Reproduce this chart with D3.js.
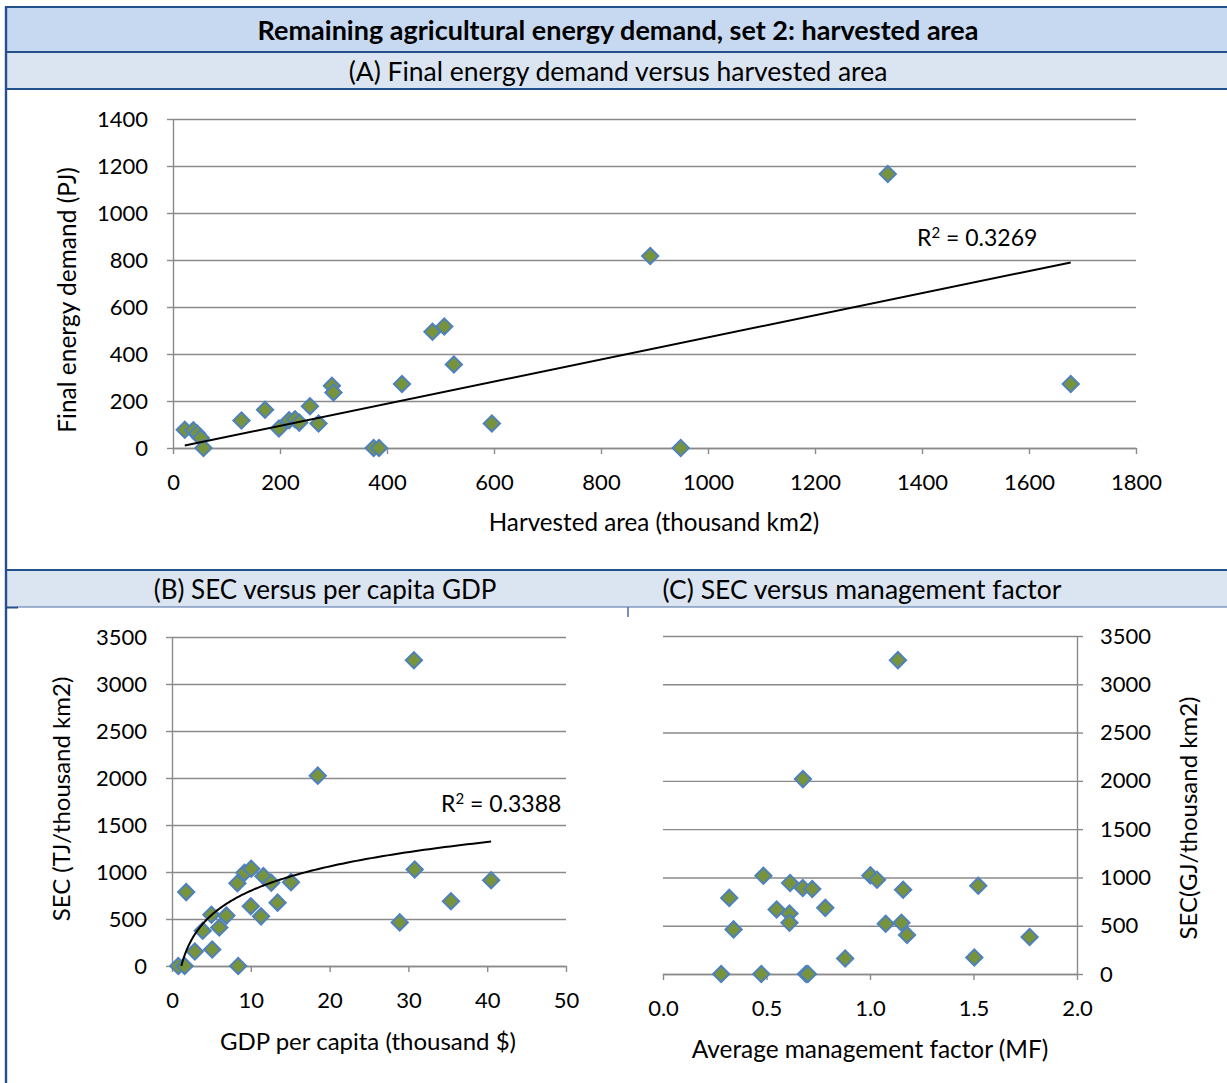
<!DOCTYPE html>
<html>
<head>
<meta charset="utf-8">
<script src="https://cdn.jsdelivr.net/npm/d3@7"></script>
<style>
  body { margin: 0; background: #fff; }
  svg text { font-family: Lato, "Open Sans", sans-serif; fill: #000; }
</style>
</head>
<body>
<svg id="chart" width="1227" height="1083"></svg>
<script>
// (A) final energy demand (PJ) against harvested area (thousand km2)
const harvestedArea = [22, 38, 45, 52, 57, 128, 172, 198, 217, 228, 236, 256, 272, 297, 300, 375, 385, 428, 485, 507, 525, 596, 892, 949, 1336, 1678];
const finalEnergy   = [78, 75, 62, 43, 0, 117, 163, 83, 118, 122, 108, 178, 104, 265, 236, 0, 0, 272, 495, 517, 355, 104, 817, 0, 1166, 272];

// (B) specific energy consumption (TJ/thousand km2) against GDP per capita (thousand $)
const gdpPerCapita = [0.8, 1.6, 1.8, 2.9, 3.9, 5.0, 5.1, 6.0, 6.9, 8.3, 8.4, 9.2, 10.05, 10.0, 11.3, 11.6, 12.6, 13.4, 15.1, 18.5, 28.9, 30.7, 30.8, 35.4, 40.5];
const secByGdp     = [0, 0, 786, 154, 375, 546, 175, 410, 536, 880, 0, 992, 1035, 636, 528, 956, 886, 674, 892, 2025, 464, 3252, 1027, 688, 912];

// (C) specific energy consumption against average management factor
const mgmtFactor = [0.281, 0.320, 0.341, 0.475, 0.485, 0.549, 0.611, 0.611, 0.614, 0.675, 0.676, 0.691, 0.700, 0.721, 0.784, 0.880, 1.002, 1.034, 1.076, 1.135, 1.152, 1.160, 1.179, 1.504, 1.523, 1.771];
const secByMgmt  = [0, 788, 462, 0, 1017, 668, 627, 531, 942, 890, 2018, 0, 0, 880, 685, 161, 1021, 976, 521, 3250, 531, 873, 404, 171, 914, 384];

// Tick values
const ticksAreaX   = [0, 200, 400, 600, 800, 1000, 1200, 1400, 1600, 1800];
const ticksEnergyY = [0, 200, 400, 600, 800, 1000, 1200, 1400];
const ticksGdpX    = [0, 10, 20, 30, 40, 50];
const ticksSecY    = [0, 500, 1000, 1500, 2000, 2500, 3000, 3500];
const ticksMgmtX   = [0, 0.5, 1.0, 1.5, 2.0];

// Titles and trendline labels
const mainTitle = "Remaining agricultural energy demand, set 2: harvested area";
const titleA = "(A) Final energy demand versus harvested area";
const titleB = "(B) SEC versus per capita GDP";
const titleC = "(C) SEC versus management factor";
const r2A = "0.3269";
const r2B = "0.3388";

const svg = d3.select("#chart");
const W = 1227;
const frame = "#24508c";
const grid = "#8a8a8a";
const markerFill = "#77933c";
const markerStroke = "#4f81bd";
const FONT = "Lato, 'Open Sans', sans-serif";

// ---- header bands and frame ----
svg.append("rect").attr("x", 6).attr("y", 7).attr("width", W - 6).attr("height", 45).attr("fill", "#c6d9f1");
svg.append("rect").attr("x", 6).attr("y", 52).attr("width", W - 6).attr("height", 37).attr("fill", "#dbe5f1");
svg.append("rect").attr("x", 6).attr("y", 570).attr("width", W - 6).attr("height", 37).attr("fill", "#dbe5f1");
[7, 52, 89, 570].forEach(yy =>
  svg.append("line").attr("x1", 6).attr("x2", W).attr("y1", yy).attr("y2", yy)
     .attr("stroke", frame).attr("stroke-width", 2.2));
svg.append("line").attr("x1", 17).attr("x2", W).attr("y1", 607).attr("y2", 607)
   .attr("stroke", "#4a6fa5").attr("stroke-width", 1.2);
svg.append("line").attr("x1", 6).attr("x2", 18).attr("y1", 607.5).attr("y2", 607.5)
   .attr("stroke", frame).attr("stroke-width", 2);
svg.append("line").attr("x1", 628).attr("x2", 628).attr("y1", 607).attr("y2", 617)
   .attr("stroke", "#4a6fa5").attr("stroke-width", 1.5);
svg.append("line").attr("x1", 6).attr("x2", 6).attr("y1", 6).attr("y2", 1083)
   .attr("stroke", frame).attr("stroke-width", 2.4);

svg.append("text").attr("x", 618).attr("y", 40).attr("text-anchor", "middle")
   .attr("font-size", 27).attr("font-weight", "bold").text(mainTitle);
svg.append("text").attr("x", 618).attr("y", 80.5).attr("text-anchor", "middle")
   .attr("font-size", 26.5).text(titleA);
svg.append("text").attr("x", 325).attr("y", 599).attr("text-anchor", "middle")
   .attr("font-size", 26).text(titleB);
svg.append("text").attr("x", 862).attr("y", 599).attr("text-anchor", "middle")
   .attr("font-size", 26.5).text(titleC);

// ---- shared panel drawing ----
function drawPanel(cfg) {
  const { x, y, xTicks, yTicks, xFmt, yFmt, side } = cfg;
  const [x0, x1] = x.range();
  const [y0] = y.range();
  const g = svg.append("g");

  // horizontal gridlines across the plot
  const gridAxis = side === "right"
    ? d3.axisRight(y).tickSize(-(x1 - x0))
    : d3.axisLeft(y).tickSize(-(x1 - x0));
  g.append("g")
    .attr("transform", `translate(${side === "right" ? x1 : x0},0)`)
    .call(gridAxis.tickValues(yTicks).tickFormat(""))
    .call(a => a.select(".domain").remove())
    .call(a => a.selectAll("line").attr("stroke", grid).attr("stroke-width", 1.4));

  // value axis with outside tick marks and labels
  const valAxis = (side === "right" ? d3.axisRight(y) : d3.axisLeft(y))
    .tickValues(yTicks).tickSize(6).tickSizeOuter(0).tickPadding(side === "right" ? 17 : 19).tickFormat(yFmt);
  g.append("g")
    .attr("transform", `translate(${side === "right" ? x1 : x0},0)`)
    .call(valAxis)
    .call(a => a.select(".domain").attr("stroke", grid).attr("stroke-width", 1.4))
    .call(a => a.selectAll("line").attr("stroke", grid).attr("stroke-width", 1.4))
    .call(a => a.selectAll("text").attr("font-size", 22).attr("font-family", FONT).attr("fill", "#000"));

  // category axis along the bottom
  g.append("g")
    .attr("transform", `translate(0,${y0})`)
    .call(d3.axisBottom(x).tickValues(xTicks).tickSize(6).tickSizeOuter(0).tickPadding(20).tickFormat(xFmt))
    .call(a => a.select(".domain").attr("stroke", grid).attr("stroke-width", 1.4))
    .call(a => a.selectAll("line").attr("stroke", grid).attr("stroke-width", 1.4))
    .call(a => a.selectAll("text").attr("font-size", 22).attr("font-family", FONT).attr("fill", "#000"));

  return g;
}

function drawMarkers(g, x, y, xs, ys) {
  const diamond = d3.symbol(d3.symbolSquare, 132);
  g.append("g").selectAll("path")
    .data(xs.map((v, i) => [v, ys[i]]))
    .join("path")
    .attr("d", diamond)
    .attr("transform", d => `translate(${x(d[0])},${y(d[1])}) rotate(45)`)
    .attr("fill", markerFill)
    .attr("stroke", markerStroke)
    .attr("stroke-width", 2);
}

function axisTitle(x, y, text, rotate, size) {
  svg.append("text")
    .attr("transform", `translate(${x},${y})${rotate ? " rotate(-90)" : ""}`)
    .attr("text-anchor", "middle").attr("dominant-baseline", "central")
    .attr("font-size", size).text(text);
}

function r2Label(x, y, value) {
  const t = svg.append("text").attr("x", x).attr("y", y).attr("font-size", 23);
  t.append("tspan").text("R");
  t.append("tspan").attr("font-size", 15).attr("dy", -8).text("2");
  t.append("tspan").attr("dy", 8).text(" = " + value);
}

// ---- panel A ----
const xA = d3.scaleLinear().domain([0, 1800]).range([173, 1136]);
const yA = d3.scaleLinear().domain([0, 1400]).range([448, 119]);
const gA = drawPanel({ x: xA, y: yA, xTicks: ticksAreaX, yTicks: ticksEnergyY, xFmt: d3.format("d"), yFmt: d3.format("d") });
drawMarkers(gA, xA, yA, harvestedArea, finalEnergy);

// linear trend forced through the origin
const sxy = d3.sum(harvestedArea, (v, i) => v * finalEnergy[i]);
const sxx = d3.sum(harvestedArea, v => v * v);
const slopeA = sxy / sxx;
const extA = d3.extent(harvestedArea);
gA.append("line")
  .attr("x1", xA(extA[0])).attr("y1", yA(slopeA * extA[0]))
  .attr("x2", xA(extA[1])).attr("y2", yA(slopeA * extA[1]))
  .attr("stroke", "#000").attr("stroke-width", 2);
r2Label(917, 246, r2A);

axisTitle(66, 300, "Final energy demand (PJ)", true, 24.5);
axisTitle(654, 521, "Harvested area (thousand km2)", false, 24.2);

// ---- panel B ----
const xB = d3.scaleLinear().domain([0, 50]).range([172, 566]);
const yB = d3.scaleLinear().domain([0, 3500]).range([966, 637]);
const gB = drawPanel({ x: xB, y: yB, xTicks: ticksGdpX, yTicks: ticksSecY, xFmt: d3.format("d"), yFmt: d3.format("d") });
drawMarkers(gB, xB, yB, gdpPerCapita, secByGdp);

// logarithmic trend y = a ln(x) + b, least squares
const lnX = gdpPerCapita.map(Math.log);
const mL = d3.mean(lnX), mY = d3.mean(secByGdp);
const aB = d3.sum(lnX, (l, i) => (l - mL) * (secByGdp[i] - mY)) / d3.sum(lnX, l => (l - mL) * (l - mL));
const bB = mY - aB * mL;
const extB = d3.extent(gdpPerCapita);
const curveX = d3.range(0, 201).map(k => extB[0] * Math.pow(extB[1] / extB[0], k / 200));
svg.append("clipPath").attr("id", "clipB")
  .append("rect").attr("x", 172).attr("y", 637).attr("width", 394).attr("height", 329);
gB.append("path")
  .datum(curveX)
  .attr("clip-path", "url(#clipB)")
  .attr("d", d3.line().x(v => xB(v)).y(v => yB(aB * Math.log(v) + bB)))
  .attr("fill", "none").attr("stroke", "#000").attr("stroke-width", 2);
r2Label(441, 812, r2B);

axisTitle(60, 799, "SEC (TJ/thousand km2)", true, 24);
axisTitle(368, 1040, "GDP per capita (thousand $)", false, 24);

// ---- panel C ----
const xC = d3.scaleLinear().domain([0, 2]).range([663, 1077]);
const yC = d3.scaleLinear().domain([0, 3500]).range([974, 636]);
const gC = drawPanel({ x: xC, y: yC, xTicks: ticksMgmtX, yTicks: ticksSecY, xFmt: d3.format(".1f"), yFmt: d3.format("d"), side: "right" });
drawMarkers(gC, xC, yC, mgmtFactor, secByMgmt);

axisTitle(870, 1048, "Average management factor (MF)", false, 24.4);
axisTitle(1187, 818, "SEC(GJ/thousand km2)", true, 24);
</script>
</body>
</html>
